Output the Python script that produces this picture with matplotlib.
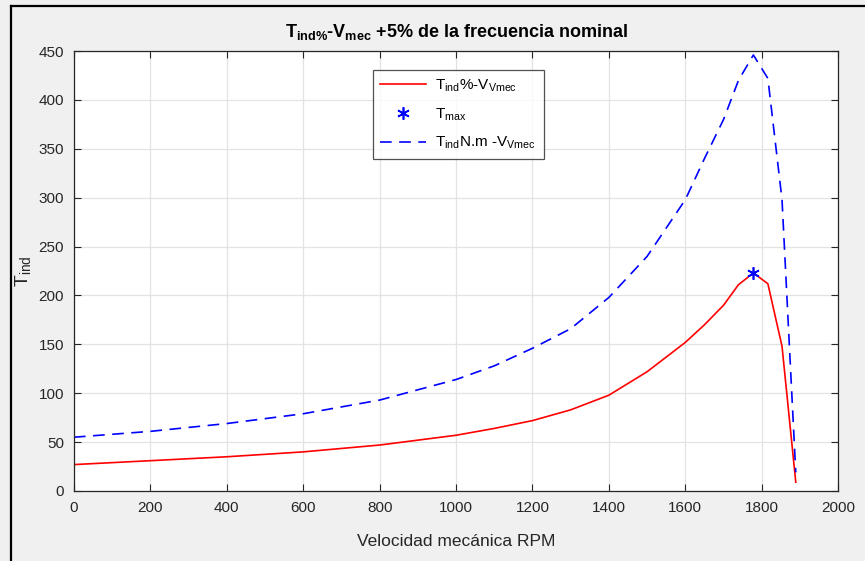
import matplotlib
matplotlib.use("Agg")
import matplotlib.pyplot as plt
from matplotlib.lines import Line2D

plt.rcParams["font.family"] = ["Liberation Sans", "DejaVu Sans"]
plt.rcParams["mathtext.fontset"] = "custom"
plt.rcParams["mathtext.rm"] = "Liberation Sans"
plt.rcParams["mathtext.it"] = "Liberation Sans"
plt.rcParams["mathtext.bf"] = "Liberation Sans:bold"
plt.rcParams["mathtext.default"] = "regular"

# data
speed_rpm = [0, 200, 400, 600, 800, 1000, 1100, 1200, 1300, 1400, 1500,
             1600, 1650, 1700, 1739, 1778, 1816, 1853, 1889]
t_ind_pct = [27, 31, 35, 40, 47, 57, 64, 72, 83, 98, 122,
             152, 170, 190, 211, 223, 212, 148, 9]
t_ind_nm = [55, 61, 69, 79, 93, 114, 128, 146, 166, 198, 240,
            298, 340, 380, 420, 446, 422, 298, 19]
t_max_speed = [1778]
t_max_value = [223]

xticks = list(range(0, 2001, 200))
yticks = list(range(0, 451, 50))

fig = plt.figure(figsize=(8.65, 5.61), dpi=100, facecolor="#f0f0f0")
ax = fig.add_axes([0.0855, 0.1248, 0.8835, 0.7842])
ax.set_facecolor("white")

ax.plot(speed_rpm, t_ind_pct, color="#ff0000", linewidth=1.2,
        label="$T_{ind}$%-$V_{Vmec}$")
ax.plot(t_max_speed, t_max_value, linestyle="none", marker=(6, 2, 0),
        markersize=9, markeredgewidth=1.2, color="#0000ff", label="$T_{max}$")
ax.plot(speed_rpm, t_ind_nm, color="#0000ff", linewidth=1.2,
        dashes=(7, 4.5), label="$T_{ind}$N.m -$V_{Vmec}$")

ax.set_xlim(0, 2000)
ax.set_ylim(0, 450)
ax.set_xticks(xticks)
ax.set_yticks(yticks)
ax.grid(True, color="#e3e3e3", linewidth=0.9)
ax.set_axisbelow(True)
ax.tick_params(direction="in", top=True, right=True, length=5, pad=7,
               color="#262626", labelcolor="#262626", labelsize=11)
for s in ax.spines.values():
    s.set_color("#262626")
    s.set_linewidth(0.9)

ax.set_xlabel("Velocidad mecánica RPM", fontsize=12.5, color="#262626", labelpad=14)
ax.set_ylabel("$T_{ind}$", fontsize=14, color="#262626", labelpad=4)
ax.set_title(r"$\mathbf{T_{ind\%}}$-$\mathbf{V_{mec}}$ +5% de la frecuencia nominal",
             fontsize=13, fontweight="bold", color="black", pad=10)

leg = ax.legend(loc="upper left", bbox_to_anchor=(0.391, 0.957),
                borderaxespad=0, fontsize=11, frameon=True, fancybox=False,
                edgecolor="#262626", handlelength=3.0, borderpad=0.5,
                labelspacing=0.8, handletextpad=0.6)
leg.get_frame().set_linewidth(0.9)

# screenshot frame edges
fig.add_artist(Line2D([0.0127, 0.0127], [0, 0.99], color="black", linewidth=1.6))
fig.add_artist(Line2D([0.0127, 1.0], [0.99, 0.99], color="black", linewidth=1.6))

fig.savefig("out.png", dpi=100, facecolor=fig.get_facecolor())
